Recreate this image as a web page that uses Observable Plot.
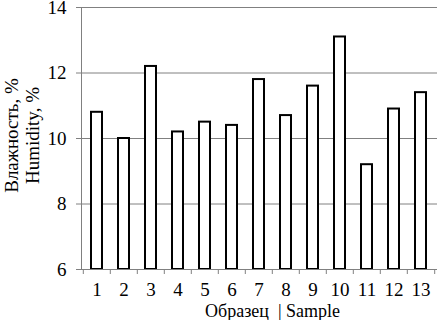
<!DOCTYPE html>
<html><head><meta charset="utf-8">
<script src="https://cdn.jsdelivr.net/npm/d3@7"></script>
<script src="https://cdn.jsdelivr.net/npm/@observablehq/plot@0.6"></script>
<style>body{margin:0;background:#fff} svg{font-family:"Liberation Serif",serif}</style>
</head><body><div id="chart"></div>
<script>
const samples = ["1","2","3","4","5","6","7","8","9","10","11","12","13"];
const humidity = [10.8,10.0,12.2,10.2,10.5,10.4,11.8,10.7,11.6,13.1,9.2,10.9,11.4];
const yTicks = [6,8,10,12,14];
const yLabel = "Влажность, %\nHumidity, %";
const xLabel = "Образец  | Sample";
const data = samples.map((s,i)=>({sample:s, value:humidity[i]}));
const W = 438, H = 320, mL = 81, mR = 1;
const step = (W - mL - mR) / samples.length;
const chart = Plot.plot({
  width: W, height: H, marginLeft: mL, marginRight: mR, marginTop: 7, marginBottom: 51,
  style: {fontFamily: "Liberation Serif", fontSize: "19px", color: "#000", background: "#fff"},
  x: {domain: samples, paddingInner: 0.58, paddingOuter: 0.29, label: null, axis: null},
  y: {domain: [6, 14], label: null, axis: null},
  marks: [
    Plot.gridY(yTicks, {stroke: "#808080", strokeOpacity: 1}),
    Plot.frame({anchor: "left", stroke: "#808080"}),
    Plot.barY(data, {x: "sample", y1: 6, y2: "value", fill: "white", stroke: "black", strokeWidth: 2}),
    Plot.ruleY([6], {stroke: "#808080"}),
    Plot.axisY(yTicks, {tickSize: 5, tickPadding: 10, stroke: "#808080", label: null, fontSize: 19}),
    Plot.axisX({tickSize: 0, tickPadding: 13, label: null, fontSize: 19}),
    Plot.axisX({text: null, tickSize: 5, dx: -step / 2, stroke: "#808080", label: null}),
    Plot.axisX(["13"], {text: null, tickSize: 5, dx: step / 2, stroke: "#808080", label: null}),
    Plot.text([yLabel], {frameAnchor: "left", rotate: -90, textAnchor: "middle", dx: -60, dy: -3, fontSize: 19, lineHeight: 1.15, fill: "black"}),
    Plot.text([xLabel], {frameAnchor: "bottom", dx: 13, dy: 42, lineAnchor: "middle", fontSize: 18, fill: "black"})
  ]
});
document.getElementById("chart").append(chart);
</script>
</body></html>
